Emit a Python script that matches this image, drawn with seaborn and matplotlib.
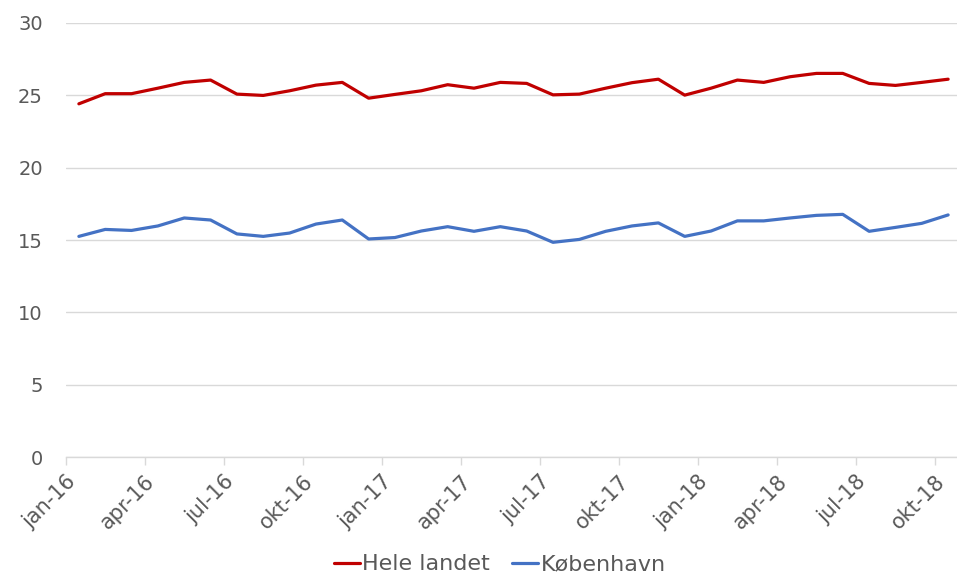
import matplotlib
matplotlib.use("Agg")
import matplotlib.pyplot as plt
import matplotlib.transforms as mtransforms
import seaborn as sns
import pandas as pd

months = ["jan-16", "feb-16", "mar-16", "apr-16", "maj-16", "jun-16", "jul-16", "aug-16", "sep-16", "okt-16", "nov-16", "dec-16",
          "jan-17", "feb-17", "mar-17", "apr-17", "maj-17", "jun-17", "jul-17", "aug-17", "sep-17", "okt-17", "nov-17", "dec-17",
          "jan-18", "feb-18", "mar-18", "apr-18", "maj-18", "jun-18", "jul-18", "aug-18", "sep-18", "okt-18"]

hele_landet = [24.4, 25.1, 25.1, 25.48, 25.88, 26.04, 25.07, 24.98, 25.3, 25.69, 25.88, 24.79,
               25.05, 25.3, 25.72, 25.48, 25.88, 25.81, 25.02, 25.07, 25.48, 25.86, 26.1, 25.0,
               25.48, 26.04, 25.88, 26.27, 26.5, 26.5, 25.81, 25.67, 25.88, 26.1]

koebenhavn = [15.25, 15.73, 15.66, 15.97, 16.52, 16.38, 15.42, 15.25, 15.48, 16.1, 16.38, 15.07,
              15.17, 15.62, 15.92, 15.6, 15.92, 15.62, 14.84, 15.04, 15.6, 15.97, 16.18, 15.25,
              15.62, 16.32, 16.32, 16.52, 16.7, 16.77, 15.6, 15.87, 16.15, 16.73]

series_names = ["Hele landet", "København"]
colors = ["#C00000", "#4472C4"]

yticks = [0, 5, 10, 15, 20, 25, 30]

df = pd.DataFrame({
    "idx": list(range(len(months))) * 2,
    "value": hele_landet + koebenhavn,
    "serie": [series_names[0]] * len(months) + [series_names[1]] * len(months),
})

sns.set_theme(style="white")
plt.rcParams["font.family"] = ["DejaVu Sans"]

fig = plt.figure(figsize=(9.57, 5.77), dpi=100)
ax = fig.add_axes([65.7 / 957, 1 - 457.3 / 577, 895.6 / 957, (457.3 - 22.7) / 577])

sns.lineplot(data=df, x="idx", y="value", hue="serie", palette=colors,
             hue_order=series_names, linewidth=2.3, ax=ax, legend=True)

ax.set_xlim(-0.5, 33.5)
ax.set_ylim(0, 30)
ax.set_yticks(yticks)
ax.set_yticklabels([str(v) for v in yticks])
ax.yaxis.grid(True, color="#D9D9D9", linewidth=1.0)
ax.set_axisbelow(True)

tick_pos = [i - 0.5 for i in range(0, len(months), 3)]
ax.set_xticks(tick_pos)
ax.set_xticklabels([months[i] for i in range(0, len(months), 3)], rotation=45,
                   ha="right", rotation_mode="anchor")
offset = mtransforms.ScaledTranslation(14 / 100, -5 / 100, fig.dpi_scale_trans)
for lab in ax.get_xticklabels():
    lab.set_transform(lab.get_transform() + offset)

for s in ["left", "right", "top"]:
    ax.spines[s].set_visible(False)
ax.spines["bottom"].set_color("#D9D9D9")
ax.spines["bottom"].set_linewidth(1.0)

ax.tick_params(axis="x", which="major", length=6, width=1, color="#D9D9D9",
               labelsize=15, labelcolor="#595959", pad=4, bottom=True)
ax.tick_params(axis="y", length=0, labelsize=14, labelcolor="#595959", pad=16.5)
ax.set_xlabel("")
ax.set_ylabel("")

handles, labels = ax.get_legend_handles_labels()
ax.get_legend().remove()
fig.legend(handles, labels, loc="center", bbox_to_anchor=(500 / 957, 0.022), ncol=2,
           frameon=False, fontsize=16, handlelength=1.17, handletextpad=0.1,
           columnspacing=1.0, labelcolor="#595959")

fig.savefig("out.png", dpi=100)
